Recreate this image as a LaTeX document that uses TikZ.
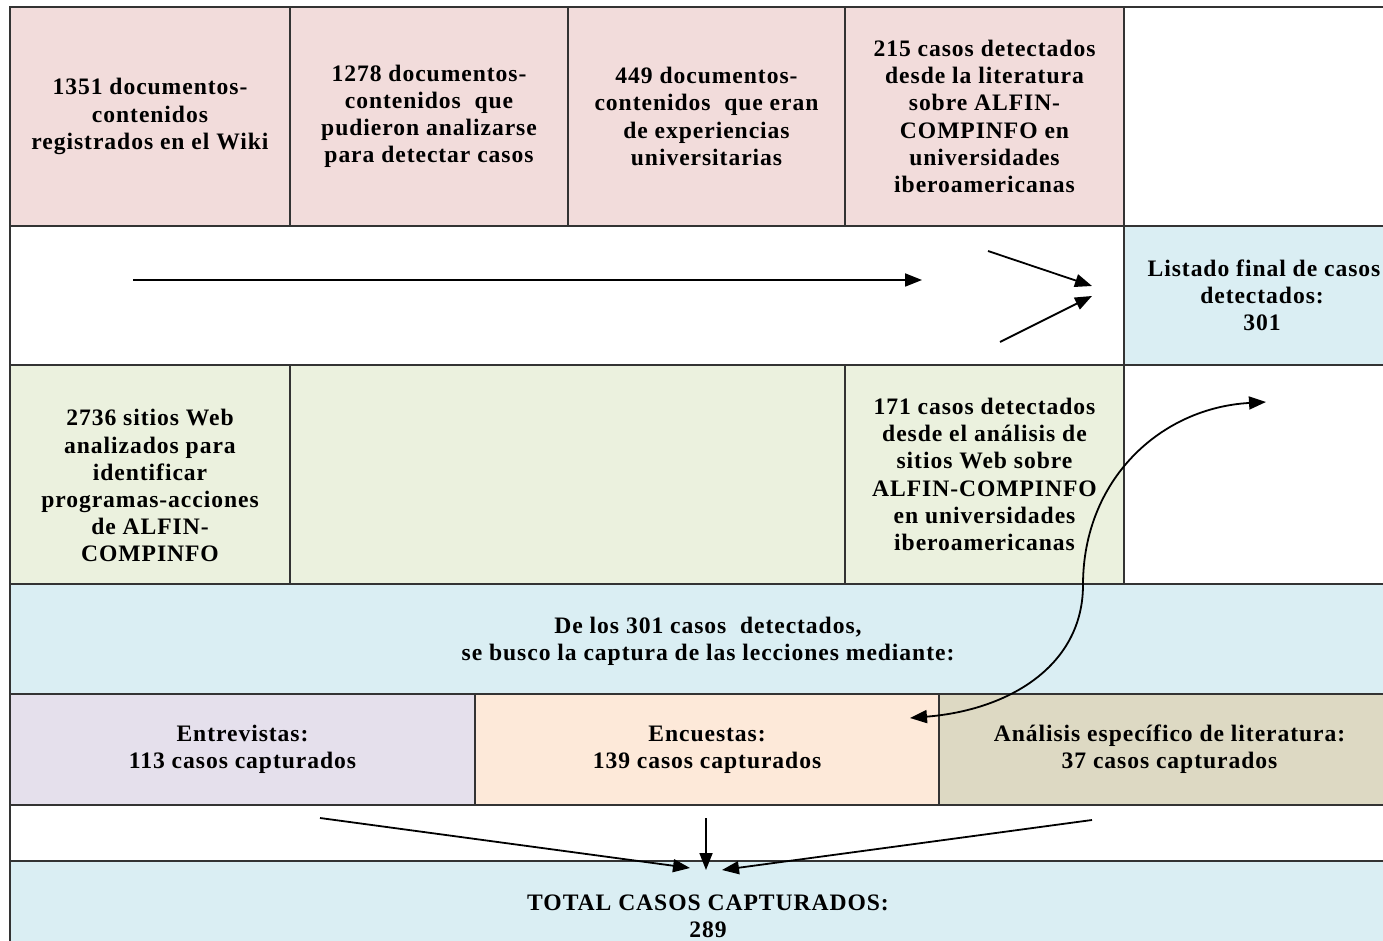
\documentclass[tikz,border=0pt]{standalone}
\usepackage{fontspec}
\setmainfont{Liberation Serif}[LetterSpace=4]
\usetikzlibrary{arrows.meta}
\definecolor{cpink}{HTML}{F2DCDB}
\definecolor{cblue}{HTML}{DAEEF3}
\definecolor{cgreen}{HTML}{EBF1DE}
\definecolor{cpurple}{HTML}{E5E0EC}
\definecolor{cpeach}{HTML}{FDE9D9}
\definecolor{ctan}{HTML}{DDD9C3}
\definecolor{cline}{HTML}{333333}
\newcommand\cellbox[7]{%
  \node[cellst, fill=#6, minimum width={(#4-#2)*0.5pt}, minimum height={(#5-#3)*0.5pt}] (#1) at ({(#2+#4)/2},{(#3+#5)/2}) {#7};}
\begin{document}
\begin{tikzpicture}[x=0.5pt,y=-0.5pt,
  cellst/.style={draw=cline, line width=0.9pt, inner sep=0pt, align=center,
    font=\fontsize{11.8}{13.6}\selectfont\bfseries},
  arr/.style={line width=0.9pt, -{Triangle[length=8.5pt,width=6.5pt]}},
  darr/.style={line width=0.9pt, {Triangle[length=8.5pt,width=6.5pt]}-{Triangle[length=8.5pt,width=6.5pt]}}]
\useasboundingbox (0,0) rectangle (1383,941);
\begin{scope}
\clip (0,0) rectangle (1383,941);
% row 1
\cellbox{a1}{10}{7}{290}{226}{cpink}{1351 documentos-\\contenidos\\registrados en el Wiki}
\cellbox{a2}{290}{7}{568}{226}{cpink}{1278 documentos-\\contenidos\ \ que\\pudieron analizarse\\para detectar casos}
\cellbox{a3}{568}{7}{845}{226}{cpink}{449 documentos-\\contenidos\ \ que eran\\de experiencias\\universitarias}
\cellbox{a4}{845}{7}{1124}{226}{cpink}{215 casos detectados\\desde la literatura\\sobre ALFIN-\\COMPINFO en\\universidades\\iberoamericanas}
\cellbox{a5}{1124}{7}{1400}{226}{white}{}
% row 2
\cellbox{b1}{10}{226}{1124}{365}{white}{}
\cellbox{b2}{1124}{226}{1400}{365}{cblue}{\hspace*{2pt}Listado final de casos\\detectados:\\301}
% row 3
\cellbox{c1}{10}{365}{290}{584}{cgreen}{\\[6pt]2736 sitios Web\\analizados para\\identificar\\programas-acciones\\de ALFIN-\\COMPINFO}
\cellbox{c2}{290}{365}{845}{584}{cgreen}{}
\cellbox{c3}{845}{365}{1124}{584}{cgreen}{171 casos detectados\\desde el análisis de\\sitios Web sobre\\ALFIN-COMPINFO\\en universidades\\iberoamericanas}
\cellbox{c4}{1124}{365}{1400}{584}{white}{}
% row 4
\cellbox{d1}{10}{584}{1400}{694}{cblue}{}
\node[cellst, draw=none] (d1t) at (708,641) {De los 301 casos\ \ detectados,\\se busco la captura de las lecciones mediante:};
% row 5
\cellbox{e1}{10}{694}{475}{805}{cpurple}{Entrevistas:\\113 casos capturados}
\cellbox{e2}{475}{694}{939}{805}{cpeach}{Encuestas:\\139 casos capturados}
\cellbox{e3}{939}{694}{1400}{805}{ctan}{Análisis específico de literatura:\\37 casos capturados}
% row 6
\cellbox{f1}{10}{805}{1400}{861}{white}{}
% row 7
\cellbox{g1}{10}{861}{1400}{1000}{cblue}{}
\node[cellst, draw=none] (g1t) at (708,916) {TOTAL CASOS CAPTURADOS:\\289};
\end{scope}
% connector end points
\coordinate (h1) at (133,280);
\coordinate (h2) at (922,280);
\coordinate (u1) at (988,251);
\coordinate (u2) at (1092,286);
\coordinate (l1) at (1000,342);
\coordinate (l2) at (1092,296);
\coordinate (cs) at (910,718);
\coordinate (cm) at (1083,585);
\coordinate (ce) at (1266,402);
\coordinate (p1) at (320,818);
\coordinate (p2) at (690,868);
\coordinate (q1) at (706,818);
\coordinate (q2) at (706,870);
\coordinate (r1) at (1092,820);
\coordinate (r2) at (722,870);
\draw[arr] (h1) -- (h2);
\draw[arr] (u1) -- (u2);
\draw[arr] (l1) -- (l2);
\draw[darr] (cs) .. controls (1010,710) and (1083,665) .. (cm) .. controls (1083,480) and (1160,408) .. (ce);
\draw[arr] (p1) -- (p2);
\draw[arr] (q1) -- (q2);
\draw[arr] (r1) -- (r2);
\end{tikzpicture}
\end{document}
